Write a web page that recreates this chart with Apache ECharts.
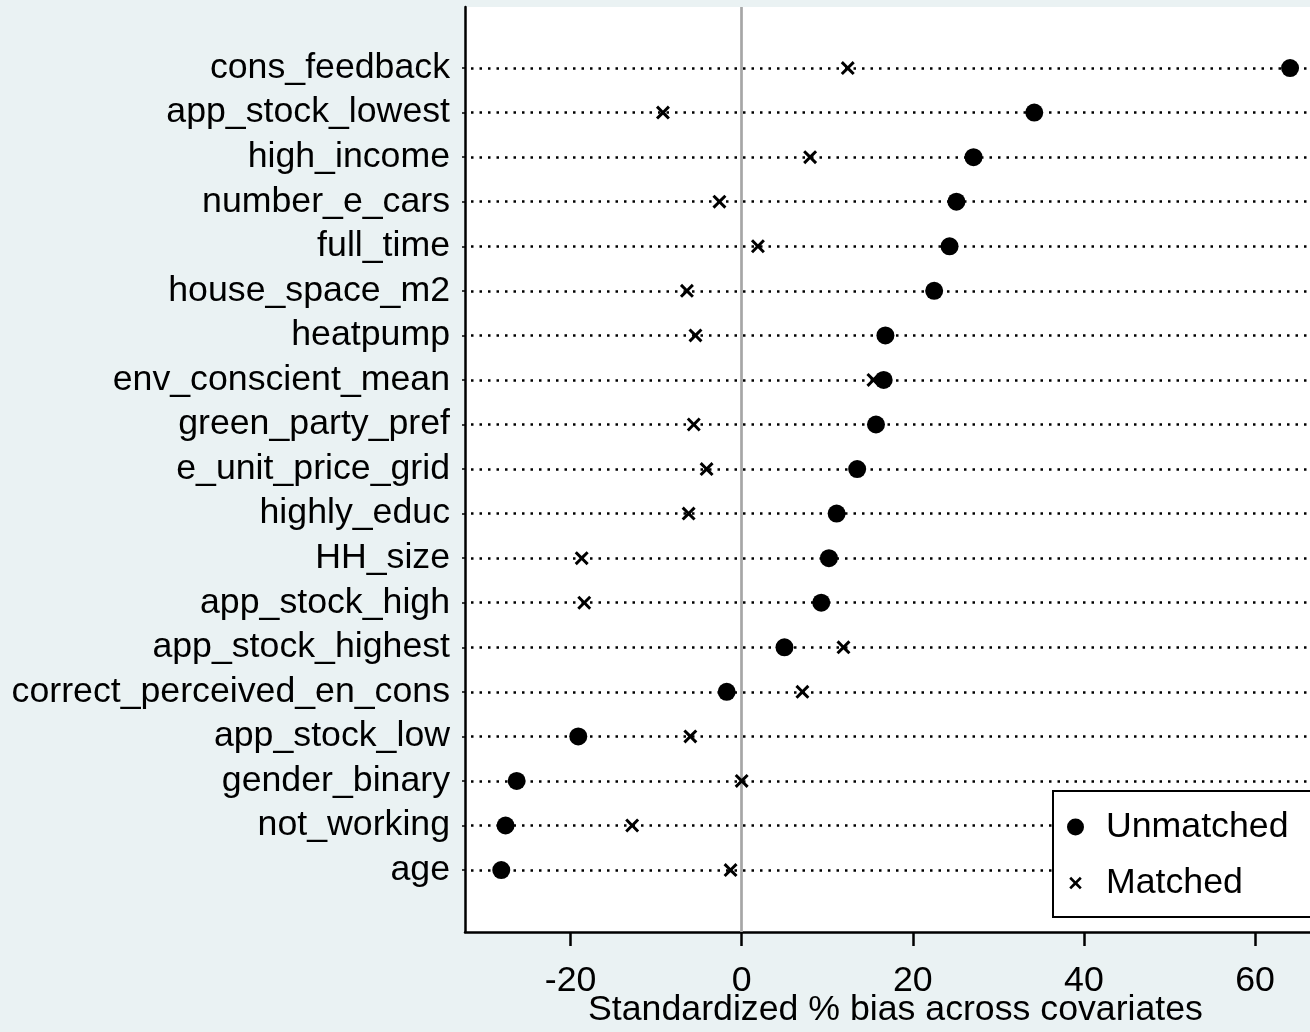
<!DOCTYPE html>
<html>
<head>
<meta charset="utf-8">
<script src="https://cdn.jsdelivr.net/npm/echarts@6/dist/echarts.min.js"></script>
<style>
  html, body { margin: 0; padding: 0; background: #EAF2F3; }
  #chart { width: 1310px; height: 1032px; }
</style>
</head>
<body>
<div id="chart"></div>
<script>
const categories = [
  'cons_feedback', 'app_stock_lowest', 'high_income', 'number_e_cars', 'full_time',
  'house_space_m2', 'heatpump', 'env_conscient_mean', 'green_party_pref', 'e_unit_price_grid',
  'highly_educ', 'HH_size', 'app_stock_high', 'app_stock_highest', 'correct_perceived_en_cons',
  'app_stock_low', 'gender_binary', 'not_working', 'age'
];
const unmatched = [64.1, 34.2, 27.1, 25.1, 24.3, 22.5, 16.8, 16.6, 15.7, 13.5,
  11.1, 10.2, 9.3, 5.0, -1.75, -19.1, -26.3, -27.6, -28.1];
const matched = [12.4, -9.2, 8.0, -2.6, 1.9, -6.4, -5.4, 15.4, -5.6, -4.1,
  -6.2, -18.7, -18.4, 11.9, 7.1, -6.0, 0.0, -12.8, -1.3];
const xTicks = [-20, 0, 20, 40, 60];
const xTitle = 'Standardized % bias across covariates';

const FONT = '"Liberation Sans", Arial, sans-serif';
const FS = 35.7;
const X_PATH = 'path://M0,15L15,0L50,35L85,0L100,15L65,50L100,85L85,100L50,65L15,100L0,85L35,50Z';
const X_LEGEND = 'path://M-18,-18L-18,-17L-17,-18ZM118,118L118,117L117,118ZM0,15L15,0L50,35L85,0L100,15L65,50L100,85L85,100L50,65L15,100L0,85L35,50Z';
const rowIdx = categories.map((c, i) => i);

const chart = echarts.init(document.getElementById('chart'), null, { renderer: 'canvas' });
chart.setOption({
  backgroundColor: '#EAF2F3',
  animation: false,
  textStyle: { fontFamily: FONT },
  grid: {
    left: 465, top: 7, right: 0, bottom: 100,
    outerBoundsMode: 'none', containLabel: false,
    show: true, backgroundColor: '#ffffff', borderWidth: 0
  },
  xAxis: {
    type: 'value', min: -32.34, max: 66.43,
    axisLine: { show: true, onZero: false, lineStyle: { color: '#000', width: 2.5 } },
    axisTick: { show: true, customValues: xTicks, length: 14, lineStyle: { color: '#000', width: 2.5 } },
    axisLabel: { customValues: xTicks, color: '#000', fontSize: FS, fontFamily: FONT, margin: 31 },
    splitLine: { show: false },
    name: xTitle, nameLocation: 'middle', nameGap: 60, nameMoveOverlap: false,
    nameTextStyle: { color: '#000', fontSize: FS, fontFamily: FONT, padding: [0, 0, 0, 16] }
  },
  yAxis: {
    type: 'value', inverse: true, min: -1.37, max: 19.39,
    axisLine: { show: true, onZero: false, lineStyle: { color: '#000', width: 2.5 } },
    axisTick: { show: true, customValues: rowIdx, length: 3, lineStyle: { color: '#000', width: 1.5 } },
    axisLabel: {
      customValues: rowIdx, color: '#000', fontSize: FS, fontFamily: FONT, margin: 15,
      padding: [4, 0, 0, 0],
      formatter: v => categories[Math.round(v)] || ''
    },
    splitLine: { show: false }
  },
  legend: {
    z: 20,
    data: [
      { name: 'Unmatched' },
      { name: 'Matched', icon: X_LEGEND }
    ],
    orient: 'vertical',
    left: 1053, top: 791,
    padding: [18, 40, 16, 14],
    itemGap: 20,
    itemWidth: 17, itemHeight: 17,
    backgroundColor: '#ffffff', borderColor: '#000', borderWidth: 2, borderRadius: 0,
    textStyle: { color: '#000', fontSize: FS, fontFamily: FONT, padding: [0, 0, 0, 17] },
    selectedMode: false
  },
  series: [
    {
      name: 'guides', type: 'scatter', data: [], z: 1, silent: true,
      markLine: {
        z: 1, silent: true, symbol: 'none', animation: false,
        label: { show: false },
        data: rowIdx.map(i => ({ yAxis: i, lineStyle: { color: '#000', width: 2.5, type: [2.5, 6], dashOffset: 2.5 } }))
          .concat([{ xAxis: 0, lineStyle: { color: '#A6A6A6', width: 2.7, type: 'solid' } }])
      }
    },
    {
      name: 'Unmatched', type: 'scatter', z: 3,
      symbol: 'circle', symbolSize: 18,
      itemStyle: { color: '#000', opacity: 1 },
      data: categories.map((c, i) => [unmatched[i], i])
    },
    {
      name: 'Matched', type: 'scatter', z: 4,
      symbol: X_PATH, symbolSize: 14,
      itemStyle: { color: '#000', opacity: 1 },
      data: categories.map((c, i) => [matched[i], i])
    }
  ]
});
</script>
</body>
</html>
